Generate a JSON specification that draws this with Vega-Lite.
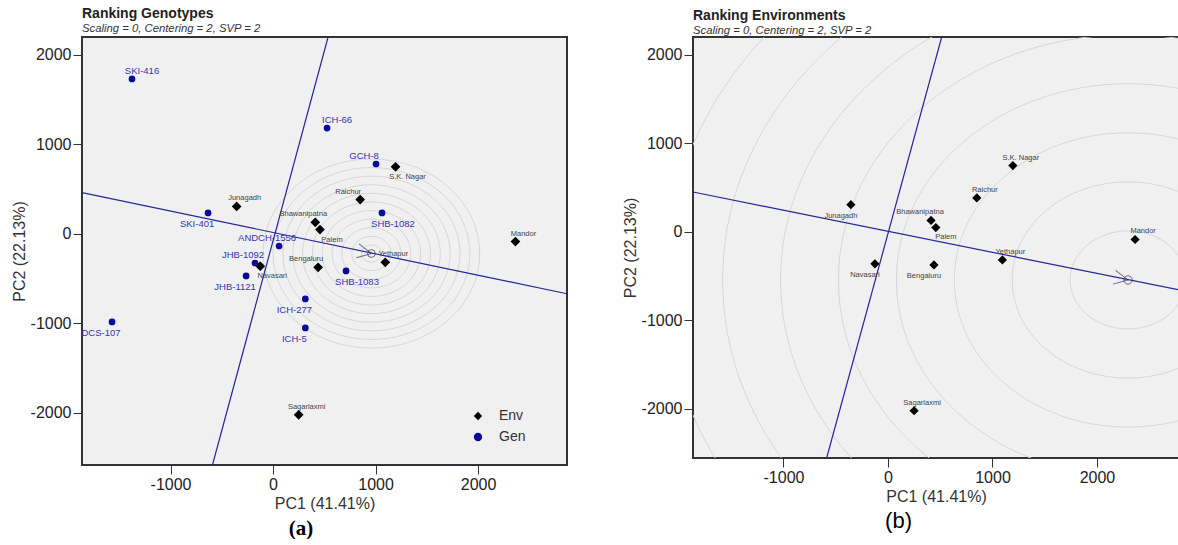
{
  "$schema": "https://vega.github.io/schema/vega-lite/v6.json",
  "background": "white",
  "padding": {"left": 10, "top": 5, "right": 0, "bottom": 0},
  "datasets": {
    "pts": [
      {"name": "SKI-416", "type": "Gen", "pc1": -1376, "pc2": 1732},
      {"name": "ICH-66", "type": "Gen", "pc1": 527, "pc2": 1184},
      {"name": "GCH-8", "type": "Gen", "pc1": 1005, "pc2": 782},
      {"name": "SHB-1082", "type": "Gen", "pc1": 1063, "pc2": 235},
      {"name": "ANDCH-1556", "type": "Gen", "pc1": 59, "pc2": -134},
      {"name": "SHB-1083", "type": "Gen", "pc1": 712, "pc2": -413},
      {"name": "JHB-1092", "type": "Gen", "pc1": -176, "pc2": -324},
      {"name": "JHB-1121", "type": "Gen", "pc1": -263, "pc2": -469},
      {"name": "SKI-401", "type": "Gen", "pc1": -634, "pc2": 235},
      {"name": "DCS-107", "type": "Gen", "pc1": -1571, "pc2": -983},
      {"name": "ICH-277", "type": "Gen", "pc1": 315, "pc2": -726},
      {"name": "ICH-5", "type": "Gen", "pc1": 315, "pc2": -1050},
      {"name": "S.K. Nagar", "type": "Env", "pc1": 1195, "pc2": 750},
      {"name": "Raichur", "type": "Env", "pc1": 850, "pc2": 385},
      {"name": "Bhawanipatna", "type": "Env", "pc1": 412, "pc2": 130},
      {"name": "Palem", "type": "Env", "pc1": 458, "pc2": 50},
      {"name": "Mandor", "type": "Env", "pc1": 2365, "pc2": -85},
      {"name": "Yethapur", "type": "Env", "pc1": 1095, "pc2": -316},
      {"name": "Bengaluru", "type": "Env", "pc1": 440, "pc2": -372},
      {"name": "Navasari", "type": "Env", "pc1": -125, "pc2": -360},
      {"name": "Junagadh", "type": "Env", "pc1": -355, "pc2": 308},
      {"name": "Sagarlaxmi", "type": "Env", "pc1": 250, "pc2": -2020}
    ],
    "ringsA": [
      {"pc1": 960, "pc2": -218, "r": 96},
      {"pc1": 960, "pc2": -218, "r": 192},
      {"pc1": 960, "pc2": -218, "r": 288},
      {"pc1": 960, "pc2": -218, "r": 384},
      {"pc1": 960, "pc2": -218, "r": 480},
      {"pc1": 960, "pc2": -218, "r": 576},
      {"pc1": 960, "pc2": -218, "r": 672},
      {"pc1": 960, "pc2": -218, "r": 768},
      {"pc1": 960, "pc2": -218, "r": 864},
      {"pc1": 960, "pc2": -218, "r": 960},
      {"pc1": 960, "pc2": -218, "r": 1056}
    ],
    "ringsB": [
      {"pc1": 2297, "pc2": -542, "r": 565},
      {"pc1": 2297, "pc2": -542, "r": 1130},
      {"pc1": 2297, "pc2": -542, "r": 1695},
      {"pc1": 2297, "pc2": -542, "r": 2260},
      {"pc1": 2297, "pc2": -542, "r": 2825},
      {"pc1": 2297, "pc2": -542, "r": 3390},
      {"pc1": 2297, "pc2": -542, "r": 3955},
      {"pc1": 2297, "pc2": -542, "r": 4520},
      {"pc1": 2297, "pc2": -542, "r": 5085}
    ],
    "linesA": [
      {"pc1": -1864, "pc2": 462, "pc1b": 2868, "pc2b": -668},
      {"pc1": -591, "pc2": -2581, "pc1b": 537, "pc2b": 2201}
    ],
    "linesB": [
      {"pc1": -1866, "pc2": 452, "pc1b": 2785, "pc2b": -655},
      {"pc1": -587, "pc2": -2554, "pc1b": 514, "pc2b": 2203}
    ],
    "idealA": [{"pc1": 960, "pc2": -218}],
    "idealB": [{"pc1": 2297, "pc2": -542}]
  },
  "hconcat": [
    {
      "title": {"text": "(a)", "orient": "bottom", "anchor": "middle", "font": "Liberation Serif", "fontSize": 21, "fontWeight": "bold", "color": "#000", "offset": 6, "dx": 12},
      "vconcat": [
        {
          "width": 485,
          "height": 428,
          "title": {"text": "Ranking Genotypes", "subtitle": "Scaling = 0, Centering = 2, SVP = 2", "anchor": "start", "frame": "group", "font": "Liberation Sans", "fontSize": 14, "fontWeight": "bold", "color": "#222", "subtitleFont": "Liberation Sans", "subtitleFontSize": 11.3, "subtitleFontStyle": "italic", "subtitleColor": "#333", "subtitlePadding": 2, "offset": 3},
          "layer": [
            {
              "data": {"name": "ringsA"},
              "mark": {"type": "point", "shape": "M -1 0 A 1 0.8733 0 1 0 1 0 A 1 0.8733 0 1 0 -1 0", "filled": false, "color": "#d6d6d6", "strokeWidth": 1, "opacity": 1, "clip": true},
              "encoding": {
                "x": {"field": "pc1", "type": "quantitative", "scale": {"domain": [-1864, 2868], "nice": false, "zero": false}, "axis": {"values": [-1000, 0, 1000, 2000], "labelExpr": "'' + datum.value", "title": "PC1 (41.41%)"}},
                "y": {"field": "pc2", "type": "quantitative", "scale": {"domain": [-2581, 2201], "nice": false, "zero": false}, "axis": {"values": [-2000, -1000, 0, 1000, 2000], "labelExpr": "'' + datum.value", "title": "PC2 (22.13%)"}},
                "size": {"field": "r", "type": "quantitative", "scale": {"type": "pow", "exponent": 2, "domain": [0, 1000], "range": [0, 42020]}, "legend": null}
              }
            },
            {
              "mark": {"type": "rule", "color": "#555", "strokeWidth": 1.3},
              "encoding": {"x": {"datum": 0, "type": "quantitative"}}
            },
            {
              "mark": {"type": "rule", "color": "#555", "strokeWidth": 1.3},
              "encoding": {"y": {"datum": 0, "type": "quantitative"}}
            },
            {
              "data": {"name": "linesA"},
              "mark": {"type": "rule", "color": "#24249a", "strokeWidth": 1.2, "clip": true},
              "encoding": {
                "x": {"field": "pc1", "type": "quantitative", "scale": {"domain": [-1864, 2868], "nice": false, "zero": false}},
                "y": {"field": "pc2", "type": "quantitative", "scale": {"domain": [-2581, 2201], "nice": false, "zero": false}},
                "x2": {"field": "pc1b"},
                "y2": {"field": "pc2b"}
              }
            },
            {
              "data": {"name": "idealA"},
              "mark": {"type": "point", "shape": "circle", "size": 60, "filled": false, "color": "#333", "strokeWidth": 1},
              "encoding": {
                "x": {"field": "pc1", "type": "quantitative"},
                "y": {"field": "pc2", "type": "quantitative"}
              }
            },
            {
              "data": {"name": "idealA"},
              "mark": {"type": "point", "shape": "M -1 -0.5 L 0 0 L -1 0.5", "size": 784, "angle": 11, "filled": false, "color": "#333366", "strokeWidth": 1},
              "encoding": {
                "x": {"field": "pc1", "type": "quantitative"},
                "y": {"field": "pc2", "type": "quantitative"}
              }
            },
            {
              "data": {"name": "pts"},
              "mark": {"type": "point", "filled": true, "opacity": 1},
              "encoding": {
                "x": {"field": "pc1", "type": "quantitative"},
                "y": {"field": "pc2", "type": "quantitative"},
                "shape": {"field": "type", "type": "nominal", "scale": {"domain": ["Env", "Gen"], "range": ["diamond", "circle"]}, "legend": {"orient": "none", "legendX": 389, "legendY": 372, "title": null, "padding": 0, "labelFont": "Liberation Sans", "labelFontSize": 14, "labelColor": "#333", "symbolSize": 70, "rowPadding": 7, "labelOffset": 14, "symbolStrokeWidth": 0}},
                "color": {"field": "type", "type": "nominal", "scale": {"domain": ["Env", "Gen"], "range": ["#000000", "#0a0a9a"]}, "legend": {"orient": "none", "legendX": 389, "legendY": 372, "title": null, "padding": 0, "labelFont": "Liberation Sans", "labelFontSize": 14, "labelColor": "#333", "symbolSize": 70, "rowPadding": 7, "labelOffset": 14, "symbolStrokeWidth": 0}},
                "size": {"condition": {"test": "datum.type === 'Env'", "value": 95}, "value": 45}
              }
            },
            {
              "data": {"name": "pts"},
              "transform": [{"filter": {"field": "name", "oneOf": ["SKI-416", "ICH-66"]}}],
              "mark": {"type": "text", "font": "Liberation Sans", "fontSize": 9.5, "color": "#3434b0", "dx": 10, "dy": -8},
              "encoding": {"x": {"field": "pc1", "type": "quantitative"}, "y": {"field": "pc2", "type": "quantitative"}, "text": {"field": "name"}}
            },
            {
              "data": {"name": "pts"},
              "transform": [{"filter": {"field": "name", "oneOf": ["GCH-8", "ANDCH-1556", "JHB-1092"]}}],
              "mark": {"type": "text", "font": "Liberation Sans", "fontSize": 9.5, "color": "#3434b0", "dx": -12, "dy": -8},
              "encoding": {"x": {"field": "pc1", "type": "quantitative"}, "y": {"field": "pc2", "type": "quantitative"}, "text": {"field": "name"}}
            },
            {
              "data": {"name": "pts"},
              "transform": [{"filter": {"field": "name", "oneOf": ["SHB-1082", "SHB-1083"]}}],
              "mark": {"type": "text", "font": "Liberation Sans", "fontSize": 9.5, "color": "#3434b0", "dx": 11, "dy": 11},
              "encoding": {"x": {"field": "pc1", "type": "quantitative"}, "y": {"field": "pc2", "type": "quantitative"}, "text": {"field": "name"}}
            },
            {
              "data": {"name": "pts"},
              "transform": [{"filter": {"field": "name", "oneOf": ["JHB-1121", "SKI-401", "DCS-107", "ICH-277", "ICH-5"]}}],
              "mark": {"type": "text", "font": "Liberation Sans", "fontSize": 9.5, "color": "#3434b0", "dx": -11, "dy": 11},
              "encoding": {"x": {"field": "pc1", "type": "quantitative"}, "y": {"field": "pc2", "type": "quantitative"}, "text": {"field": "name"}}
            },
            {
              "data": {"name": "pts"},
              "transform": [{"filter": {"field": "name", "oneOf": ["Mandor", "Yethapur", "Sagarlaxmi", "Junagadh"]}}],
              "mark": {"type": "text", "font": "Liberation Sans", "fontSize": 7.5, "color": "#444", "dx": 8, "dy": -8},
              "encoding": {"x": {"field": "pc1", "type": "quantitative"}, "y": {"field": "pc2", "type": "quantitative"}, "text": {"field": "name"}}
            },
            {
              "data": {"name": "pts"},
              "transform": [{"filter": {"field": "name", "oneOf": ["Raichur", "Bhawanipatna", "Bengaluru"]}}],
              "mark": {"type": "text", "font": "Liberation Sans", "fontSize": 7.5, "color": "#444", "dx": -12, "dy": -8},
              "encoding": {"x": {"field": "pc1", "type": "quantitative"}, "y": {"field": "pc2", "type": "quantitative"}, "text": {"field": "name"}}
            },
            {
              "data": {"name": "pts"},
              "transform": [{"filter": {"field": "name", "oneOf": ["S.K. Nagar", "Palem", "Navasari"]}}],
              "mark": {"type": "text", "font": "Liberation Sans", "fontSize": 7.5, "color": "#444", "dx": 12, "dy": 10},
              "encoding": {"x": {"field": "pc1", "type": "quantitative"}, "y": {"field": "pc2", "type": "quantitative"}, "text": {"field": "name"}}
            }
          ]
        }
      ]
    },
    {
      "title": {"text": "(b)", "orient": "bottom", "anchor": "middle", "font": "Liberation Sans", "fontSize": 22, "fontWeight": "normal", "color": "#000", "offset": 6, "dx": -2},
      "vconcat": [
        {
          "width": 486,
          "height": 421,
          "title": {"text": "Ranking Environments", "subtitle": "Scaling = 0, Centering = 2, SVP = 2", "anchor": "start", "frame": "group", "font": "Liberation Sans", "fontSize": 14, "fontWeight": "bold", "color": "#222", "subtitleFont": "Liberation Sans", "subtitleFontSize": 11.3, "subtitleFontStyle": "italic", "subtitleColor": "#333", "subtitlePadding": 2, "offset": 1},
          "layer": [
            {
              "data": {"name": "ringsB"},
              "mark": {"type": "point", "shape": "M -1 0 A 1 0.847 0 1 0 1 0 A 1 0.847 0 1 0 -1 0", "filled": false, "color": "#d6d6d6", "strokeWidth": 1, "opacity": 1, "clip": true},
              "encoding": {
                "x": {"field": "pc1", "type": "quantitative", "scale": {"domain": [-1866, 2785], "nice": false, "zero": false}, "axis": {"values": [-1000, 0, 1000, 2000], "labelExpr": "'' + datum.value", "title": "PC1 (41.41%)"}},
                "y": {"field": "pc2", "type": "quantitative", "scale": {"domain": [-2554, 2203], "nice": false, "zero": false}, "axis": {"values": [-2000, -1000, 0, 1000, 2000], "labelExpr": "'' + datum.value", "title": "PC2 (22.13%)"}},
                "size": {"field": "r", "type": "quantitative", "scale": {"type": "pow", "exponent": 2, "domain": [0, 1000], "range": [0, 43676]}, "legend": null}
              }
            },
            {
              "mark": {"type": "rule", "color": "#555", "strokeWidth": 1.3},
              "encoding": {"x": {"datum": 0, "type": "quantitative"}}
            },
            {
              "mark": {"type": "rule", "color": "#555", "strokeWidth": 1.3},
              "encoding": {"y": {"datum": 0, "type": "quantitative"}}
            },
            {
              "data": {"name": "linesB"},
              "mark": {"type": "rule", "color": "#24249a", "strokeWidth": 1.2, "clip": true},
              "encoding": {
                "x": {"field": "pc1", "type": "quantitative", "scale": {"domain": [-1866, 2785], "nice": false, "zero": false}},
                "y": {"field": "pc2", "type": "quantitative", "scale": {"domain": [-2554, 2203], "nice": false, "zero": false}},
                "x2": {"field": "pc1b"},
                "y2": {"field": "pc2b"}
              }
            },
            {
              "data": {"name": "idealB"},
              "mark": {"type": "point", "shape": "circle", "size": 70, "filled": false, "color": "#333", "strokeWidth": 1},
              "encoding": {
                "x": {"field": "pc1", "type": "quantitative"},
                "y": {"field": "pc2", "type": "quantitative"}
              }
            },
            {
              "data": {"name": "idealB"},
              "mark": {"type": "point", "shape": "M -1 -0.5 L 0 0 L -1 0.5", "size": 784, "angle": 11, "filled": false, "color": "#333366", "strokeWidth": 1},
              "encoding": {
                "x": {"field": "pc1", "type": "quantitative"},
                "y": {"field": "pc2", "type": "quantitative"}
              }
            },
            {
              "data": {"name": "pts"},
              "transform": [{"filter": {"field": "type", "equal": "Env"}}],
              "mark": {"type": "point", "shape": "diamond", "filled": true, "color": "#000", "size": 85, "opacity": 1},
              "encoding": {
                "x": {"field": "pc1", "type": "quantitative"},
                "y": {"field": "pc2", "type": "quantitative"}
              }
            },
            {
              "data": {"name": "pts"},
              "transform": [{"filter": {"field": "name", "oneOf": ["S.K. Nagar", "Raichur", "Mandor", "Yethapur", "Sagarlaxmi"]}}],
              "mark": {"type": "text", "font": "Liberation Sans", "fontSize": 7.5, "color": "#444", "dx": 8, "dy": -8},
              "encoding": {"x": {"field": "pc1", "type": "quantitative"}, "y": {"field": "pc2", "type": "quantitative"}, "text": {"field": "name"}}
            },
            {
              "data": {"name": "pts"},
              "transform": [{"filter": {"field": "name", "oneOf": ["Bhawanipatna"]}}],
              "mark": {"type": "text", "font": "Liberation Sans", "fontSize": 7.5, "color": "#444", "dx": -11, "dy": -8},
              "encoding": {"x": {"field": "pc1", "type": "quantitative"}, "y": {"field": "pc2", "type": "quantitative"}, "text": {"field": "name"}}
            },
            {
              "data": {"name": "pts"},
              "transform": [{"filter": {"field": "name", "oneOf": ["Palem"]}}],
              "mark": {"type": "text", "font": "Liberation Sans", "fontSize": 7.5, "color": "#444", "dx": 10, "dy": 9},
              "encoding": {"x": {"field": "pc1", "type": "quantitative"}, "y": {"field": "pc2", "type": "quantitative"}, "text": {"field": "name"}}
            },
            {
              "data": {"name": "pts"},
              "transform": [{"filter": {"field": "name", "oneOf": ["Bengaluru", "Junagadh", "Navasari"]}}],
              "mark": {"type": "text", "font": "Liberation Sans", "fontSize": 7.5, "color": "#444", "dx": -10, "dy": 11},
              "encoding": {"x": {"field": "pc1", "type": "quantitative"}, "y": {"field": "pc2", "type": "quantitative"}, "text": {"field": "name"}}
            }
          ]
        }
      ]
    }
  ],
  "spacing": 53,
  "config": {
    "view": {"fill": "#f0f0f0", "stroke": "#333", "strokeWidth": 2},
    "axis": {"labelFont": "Liberation Sans", "labelFontSize": 16, "labelColor": "#222", "titleFont": "Liberation Sans", "titleFontSize": 16, "titleFontWeight": "normal", "titleColor": "#333", "tickColor": "#333", "tickSize": 9, "tickWidth": 1, "domain": false, "grid": false, "labelPadding": 2, "titlePadding": 3},
    "concat": {"spacing": 53}
  }
}
